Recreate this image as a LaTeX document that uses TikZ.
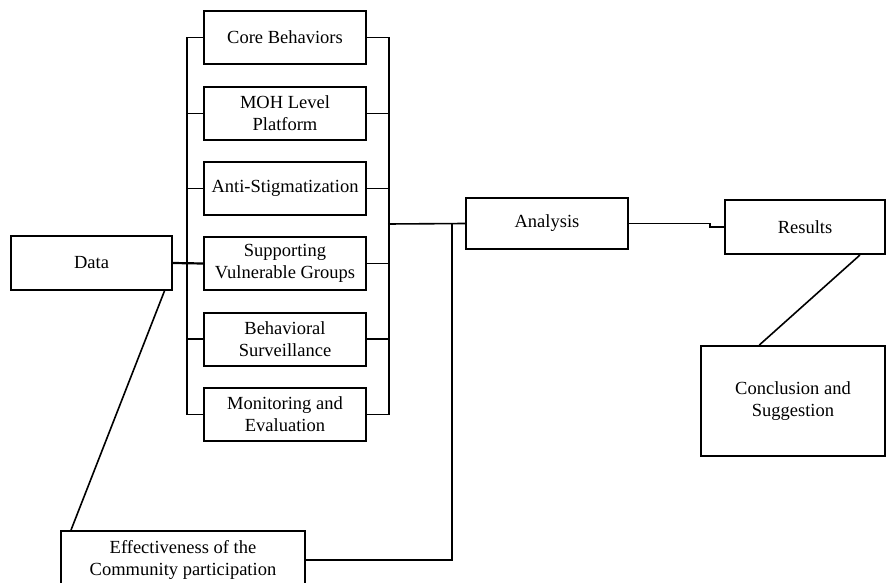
\documentclass[tikz,border=0pt]{standalone}
\usepackage{fontspec}
\setmainfont{Liberation Serif}
\begin{document}
\begin{tikzpicture}[x=1pt, y=-1pt, line width=1.6pt,
    box/.style={draw, line width=2pt, inner sep=0pt, align=center, minimum width=162pt, minimum height=53pt, font=\fontsize{18.5}{22}\selectfont}]
			\useasboundingbox (0,0) rectangle (886,583);
			
			% Boxes
			\node[box] (core) at (285,37.5) {Core Behaviors};
			\node[box] (moh) at (285,113.5) {MOH Level\\Platform};
			\node[box] (anti) at (285,188.5) {Anti-Stigmatization};
			\node[box] (supp) at (285,263.5) {Supporting\\Vulnerable Groups};
			\node[box] (behav) at (285,339) {Behavioral\\Surveillance};
			\node[box] (monit) at (285,414.5) {Monitoring and\\Evaluation};
			
			\node[box, minimum width=161pt, minimum height=54pt] (data) at (91.5,263) {Data};
			\node[box, minimum width=244pt, minimum height=58pt] (eff) at (183,560) {Effectiveness of the\\Community participation};
			\node[box, minimum height=51pt] (analysis) at (547,223.5) {Analysis};
			\node[box, minimum width=160pt, minimum height=54pt] (results) at (805,227) {Results};
			\node[box, minimum width=184pt, minimum height=110pt] (concl) at (793,401) {Conclusion and\\Suggestion};
			
			% Joints
			\coordinate (rjoin) at (388,224);
			\coordinate (ajoin) at (452,223.5);
			\coordinate (step) at (710,223.5);
			
			% Left bus
			\draw (core.west) -- ++(-16,0) |- (monit.west);
			\draw (moh.west) -- ++(-16,0);
			\draw (anti.west) -- ++(-16,0);
			\draw (behav.west) -- ++(-16,0);
			\draw[line width=2.2pt] (data.east) -- (supp.west);
			
			% Right bus
			\draw (core.east) -- ++(22,0) |- (monit.east);
			\draw (moh.east) -- ++(22,0);
			\draw (anti.east) -- ++(22,0);
			\draw (supp.east) -- ++(22,0);
			\draw (behav.east) -- ++(22,0);
			\draw[line width=2.8pt] ([xshift=22pt]moh.east) -- ([xshift=22pt]behav.east);
			
			% Links
			\draw (rjoin) -- (analysis.west);
			\draw (eff.east) -| (ajoin);
			\draw (analysis.east) -- (step) |- (results.west);
			\draw (results.-27.4) -- (concl.121);
			\draw (data.-21.5) -- (eff.165.4);
		\end{tikzpicture}
\end{document}
